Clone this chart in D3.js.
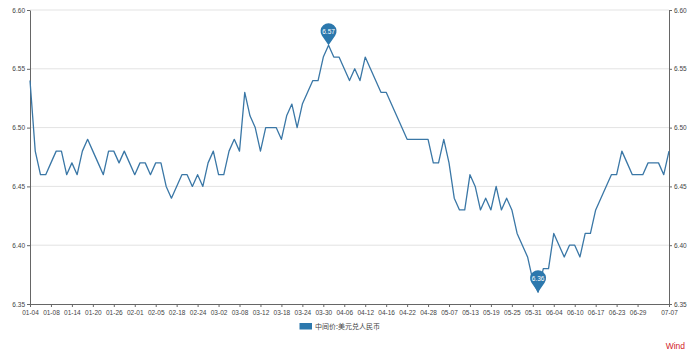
<!DOCTYPE html>
<html><head><meta charset="utf-8">
<script src="https://cdn.jsdelivr.net/npm/d3@7"></script>
<style>
html,body{margin:0;padding:0;background:#fff;}
svg{display:block;font-family:"Liberation Sans",Arial,sans-serif;}
</style></head>
<body>
<svg id="chart" width="700" height="356"></svg>
<script>
const dates = [
"01-04","01-05","01-06","01-07","01-08","01-11","01-12","01-13","01-14","01-15",
"01-18","01-19","01-20","01-21","01-22","01-25","01-26","01-27","01-28","01-29",
"02-01","02-02","02-03","02-04","02-05","02-08","02-09","02-10","02-18","02-19",
"02-22","02-23","02-24","02-25","02-26",
"03-01","03-02","03-03","03-04","03-05","03-08","03-09","03-10","03-11","03-12",
"03-15","03-16","03-17","03-18","03-19","03-22","03-23","03-24","03-25","03-26",
"03-29","03-30","03-31",
"04-01","04-02","04-06","04-07","04-08","04-09","04-12","04-13","04-14","04-15",
"04-16","04-19","04-20","04-21","04-22","04-23","04-26","04-27","04-28","04-29","04-30",
"05-06","05-07","05-10","05-11","05-12","05-13","05-14","05-17","05-18","05-19",
"05-20","05-21","05-24","05-25","05-26","05-27","05-28","05-31",
"06-01","06-02","06-03","06-04","06-07","06-08","06-09","06-10","06-11","06-15",
"06-16","06-17","06-18","06-21","06-22","06-23","06-24","06-25","06-28","06-29","06-30",
"07-01","07-02","07-05","07-06","07-07"
];
const values = [
6.54,6.48,6.46,6.46,6.47,6.48,6.48,6.46,6.47,6.46,
6.48,6.49,6.48,6.47,6.46,6.48,6.48,6.47,6.48,6.47,
6.46,6.47,6.47,6.46,6.47,6.47,6.45,6.44,6.45,6.46,
6.46,6.45,6.46,6.45,6.47,
6.48,6.46,6.46,6.48,6.49,6.48,6.53,6.51,6.50,6.48,
6.50,6.50,6.50,6.49,6.51,6.52,6.50,6.52,6.53,6.54,
6.54,6.56,6.57,
6.56,6.56,6.55,6.54,6.55,6.54,6.56,6.55,6.54,6.53,
6.53,6.52,6.51,6.50,6.49,6.49,6.49,6.49,6.49,6.47,6.47,
6.49,6.47,6.44,6.43,6.43,6.46,6.45,6.43,6.44,6.43,
6.45,6.43,6.44,6.43,6.41,6.40,6.39,6.37,
6.36,6.38,6.38,6.41,6.40,6.39,6.40,6.40,6.39,6.41,
6.41,6.43,6.44,6.45,6.46,6.46,6.48,6.47,6.46,6.46,6.46,
6.47,6.47,6.47,6.46,6.48
];
const xTickLabels = ["01-04","01-08","01-14","01-20","01-26","02-01","02-05","02-18","02-24","03-02",
"03-08","03-12","03-18","03-24","03-30","04-06","04-12","04-16","04-22","04-28",
"05-07","05-13","05-19","05-25","05-31","06-04","06-10","06-17","06-23","06-29","07-07"];
const yTicks = [6.35,6.40,6.45,6.50,6.55,6.60];
const seriesName = "中间价:美元兑人民币";
const source = "Wind";

const svg = d3.select("#chart");
const L = 30, R = 669, T = 10, B = 304;
const lineColor = "#3a77a6", pinColor = "#2c78ad", axisColor = "#666", textColor = "#444";

const x = d3.scalePoint().domain(dates).range([L, R]).padding(0);
const y = d3.scaleLinear().domain([6.35, 6.60]).range([B, T]);

// gridlines
svg.append("g").selectAll("line").data(yTicks.slice(1)).join("line")
  .attr("x1", L).attr("x2", R)
  .attr("y1", d => y(d)).attr("y2", d => y(d))
  .attr("stroke", "#e3e3e3").attr("stroke-width", 1);

function styleAxis(g){
  g.select(".domain").attr("stroke", axisColor);
  g.selectAll(".tick line").attr("stroke", axisColor);
  g.selectAll(".tick text").attr("fill", textColor).attr("font-size", "6.5px")
    .attr("font-family", "Liberation Sans, Arial, sans-serif");
}

const yl = svg.append("g").attr("transform", `translate(${L},0)`)
  .call(d3.axisLeft(y).tickValues(yTicks).tickFormat(d3.format(".2f")).tickSizeInner(3).tickSizeOuter(0).tickPadding(2));
styleAxis(yl);
const yr = svg.append("g").attr("transform", `translate(${R},0)`)
  .call(d3.axisRight(y).tickValues(yTicks).tickFormat(d3.format(".2f")).tickSizeInner(3).tickSizeOuter(0).tickPadding(2));
styleAxis(yr);
const xa = svg.append("g").attr("transform", `translate(0,${B})`)
  .call(d3.axisBottom(x).tickValues(xTickLabels).tickSizeInner(3).tickSizeOuter(0).tickPadding(3));
styleAxis(xa);

// line
const line = d3.line().x((d, i) => x(dates[i])).y(d => y(d));
svg.append("path").datum(values).attr("d", line)
  .attr("fill", "none").attr("stroke", lineColor).attr("stroke-width", 1.3)
  .attr("stroke-linejoin", "round");

// pins for max & min
function pin(i){
  const px = x(dates[i]), py = y(values[i]);
  const r = 8, d = 14;
  const cy = py - d;
  const phi = Math.acos(r / d);
  const sx = r * Math.sin(phi), sy = r * Math.cos(phi);
  const g = svg.append("g");
  g.append("path")
    .attr("d", `M${px},${py} L${px - sx},${cy + sy} A${r},${r} 0 1 1 ${px + sx},${cy + sy} Z`)
    .attr("fill", pinColor);
  g.append("text").attr("x", px).attr("y", cy + 2.3)
    .attr("text-anchor", "middle").attr("fill", "#fff").attr("font-size", "6.5px")
    .text(d3.format(".2f")(values[i]));
}
pin(d3.maxIndex(values));
pin(d3.minIndex(values));

// legend
const lg = svg.append("g");
lg.append("rect").attr("x", 299.5).attr("y", 323).attr("width", 12.5).attr("height", 6.5)
  .attr("fill", pinColor);
lg.append("text").attr("x", 315).attr("y", 329.3).attr("font-size", "7px").attr("fill", textColor)
  .attr("font-family", "Noto Sans CJK SC, sans-serif").text(seriesName);

// source
svg.append("text").attr("x", 685).attr("y", 349.3).attr("text-anchor", "end")
  .attr("font-size", "8.5px").attr("fill", "#d2232a").text(source);
</script>
</body></html>
